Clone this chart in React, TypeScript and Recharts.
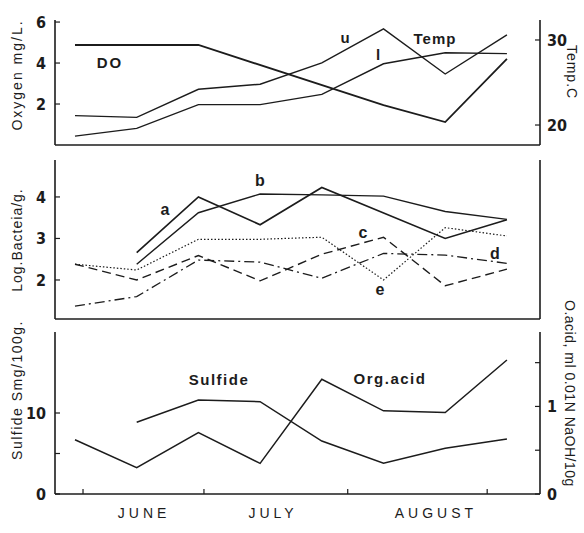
import { LineChart, Line, XAxis, YAxis } from "recharts";

// sample number along the season (8 samplings, June..August)
const sampleIdx = [0, 1, 2, 3, 4, 5, 6, 7];

// top panel
const dissolvedO2 = [4.88, 4.88, 4.88, null, null, 1.95, 1.12, 4.2];
const tempUpper = [21.1, 20.9, 24.2, 24.8, 27.3, 31.3, 26.0, 30.6];
const tempLower = [18.7, 19.6, 22.4, 22.4, 23.6, 27.2, 28.5, 28.4];

// middle panel, log bacteria / g
const bacteriaA = [null, 2.66, 4.0, 3.33, 4.23, null, 3.0, 3.45];
const bacteriaB = [null, 2.38, 3.62, 4.07, 4.05, 4.02, 3.65, 3.46];
const bacteriaC = [2.38, 2.0, 2.59, 1.98, 2.62, 3.03, 1.86, 2.26];
const bacteriaD = [1.37, 1.6, 2.48, 2.43, 2.04, 2.64, 2.6, 2.4];
const bacteriaE = [2.38, 2.24, 2.98, 2.98, 3.03, 2.0, 3.26, 3.06];

// bottom panel
const sulfide = [null, 8.85, 11.6, 11.4, 6.54, 3.79, 5.64, 6.79];
const orgAcid = [0.62, 0.3, 0.7, 0.35, 1.31, 0.95, 0.93, 1.53];

const months = ["JUNE", "JULY", "AUGUST"];
const monthPos = [1.12, 3.21, 5.85];
const monthMarks = [0.13, 2.09, 4.42, 6.68];

const rows = sampleIdx.map((x, i) => ({
  x,
  do: dissolvedO2[i],
  tu: tempUpper[i],
  tl: tempLower[i],
  a: bacteriaA[i],
  b: bacteriaB[i],
  c: bacteriaC[i],
  d: bacteriaD[i],
  e: bacteriaE[i],
  sulfide: sulfide[i],
  acid: orgAcid[i],
}));

const X_DOMAIN: [number, number] = [-0.324, 7.536];
const INK = "#1c1c1c";
const NUM_FONT = "'Liberation Sans Narrow', 'DejaVu Sans Condensed', 'Liberation Sans', Arial";
const TXT_FONT = "'Liberation Sans', Arial, sans-serif";
const tickStyle = { fontSize: 16, fontWeight: 700, fill: INK, fontFamily: NUM_FONT };
const axisLine = { stroke: INK, strokeWidth: 1.6 };
const tickLine = { stroke: INK, strokeWidth: 1.2 };

function MonthTick(props: any) {
  const { x, y, payload } = props;
  const i = monthPos.indexOf(payload.value);
  if (i >= 0) {
    return (
      <text
        x={x}
        y={y + 24}
        textAnchor="middle"
        fontSize={14}
        fontFamily={TXT_FONT}
        letterSpacing={4}
        fill={INK}
      >
        {months[i]}
      </text>
    );
  }
  return <line x1={x} x2={x} y1={y} y2={y - 5} stroke={INK} strokeWidth={1.2} />;
}

function Overlay() {
  const lbl = { fontFamily: TXT_FONT, fill: INK } as const;
  return (
    <svg
      width={584}
      height={533}
      style={{ position: "absolute", left: 0, top: 0, pointerEvents: "none" }}
    >
      {/* axis titles */}
      <text {...lbl} fontSize={14} letterSpacing={2} textAnchor="middle" dominantBaseline="central"
        transform="translate(17,75) rotate(-90)">Oxygen mg/L.</text>
      <text {...lbl} fontSize={14} letterSpacing={1} textAnchor="middle" dominantBaseline="central"
        transform="translate(17,240) rotate(-90)">Log.Bacteia/g.</text>
      <text {...lbl} fontSize={14} letterSpacing={1.5} textAnchor="middle" dominantBaseline="central"
        transform="translate(17,390) rotate(-90)">Sulfide Smg/100g.</text>
      <text {...lbl} fontSize={14} letterSpacing={1} textAnchor="middle" dominantBaseline="central"
        transform="translate(572,72) rotate(90)">Temp.C</text>
      <text {...lbl} fontSize={14} letterSpacing={0.5} textAnchor="start" dominantBaseline="central"
        transform="translate(570,300) rotate(90)">O.acid, ml 0.01N NaOH/10g</text>

      {/* series labels */}
      <text {...lbl} fontSize={15} fontWeight={700} letterSpacing={2} textAnchor="middle" dominantBaseline="central" x={110} y={62}>DO</text>
      <text {...lbl} fontSize={15} fontWeight={700} textAnchor="middle" dominantBaseline="central" x={345} y={37}>u</text>
      <text {...lbl} fontSize={15} fontWeight={700} letterSpacing={1} textAnchor="middle" dominantBaseline="central" x={435} y={38}>Temp</text>
      <text {...lbl} fontSize={15} fontWeight={700} textAnchor="middle" dominantBaseline="central" x={378} y={54}>l</text>
      <text {...lbl} fontSize={16} fontWeight={700} textAnchor="middle" dominantBaseline="central" x={165} y={209}>a</text>
      <text {...lbl} fontSize={16} fontWeight={700} textAnchor="middle" dominantBaseline="central" x={260} y={180}>b</text>
      <text {...lbl} fontSize={16} fontWeight={700} textAnchor="middle" dominantBaseline="central" x={363} y={232}>c</text>
      <text {...lbl} fontSize={16} fontWeight={700} textAnchor="middle" dominantBaseline="central" x={495} y={253}>d</text>
      <text {...lbl} fontSize={16} fontWeight={700} textAnchor="middle" dominantBaseline="central" x={380} y={289}>e</text>
      <text {...lbl} fontSize={15} fontWeight={700} letterSpacing={1.5} textAnchor="middle" dominantBaseline="central" x={219} y={379}>Sulfide</text>
      <text {...lbl} fontSize={15} fontWeight={700} letterSpacing={1.5} textAnchor="middle" dominantBaseline="central" x={390} y={378}>Org.acid</text>
    </svg>
  );
}

export default function App() {
  return (
    <div
      style={{
        position: "absolute",
        left: 0,
        top: 0,
        width: 584,
        height: 533,
        background: "#fff",
        overflow: "hidden",
      }}
    >
      {/* oxygen / temperature */}
      <div style={{ position: "absolute", left: 0, top: 0 }}>
        <LineChart width={584} height={150} data={rows} margin={{ top: 20, right: 0, bottom: 4, left: 0 }}>
          <XAxis dataKey="x" type="number" domain={X_DOMAIN} allowDataOverflow height={1} tick={false} tickLine={false} axisLine={axisLine} />
          <YAxis yAxisId="o" domain={[0, 6.1]} ticks={[2, 4, 6]} width={55} tickSize={-5} tickMargin={14}
            tick={tickStyle} tickLine={tickLine} axisLine={axisLine} interval={0} />
          <YAxis yAxisId="t" orientation="right" domain={[17.65, 32.35]} ticks={[20, 30]} width={44} tickSize={-5} tickMargin={12}
            tick={tickStyle} tickLine={tickLine} axisLine={axisLine} interval={0} />
          <Line yAxisId="o" dataKey="do" stroke={INK} strokeWidth={1.8} dot={false} activeDot={false} connectNulls isAnimationActive={false} />
          <Line yAxisId="t" dataKey="tu" stroke={INK} strokeWidth={1.4} dot={false} activeDot={false} isAnimationActive={false} />
          <Line yAxisId="t" dataKey="tl" stroke={INK} strokeWidth={1.4} dot={false} activeDot={false} isAnimationActive={false} />
        </LineChart>
      </div>

      {/* bacteria */}
      <div style={{ position: "absolute", left: 0, top: 150 }}>
        <LineChart width={584} height={175} data={rows} margin={{ top: 10, right: 0, bottom: 5, left: 0 }}>
          <XAxis dataKey="x" type="number" domain={X_DOMAIN} allowDataOverflow height={1} tick={false} tickLine={false} axisLine={axisLine} />
          <YAxis yAxisId="g" domain={[1.06, 4.89]} ticks={[2, 3, 4]} width={55} tickSize={-5} tickMargin={14}
            tick={tickStyle} tickLine={tickLine} axisLine={axisLine} interval={0} />
          <YAxis yAxisId="r" orientation="right" domain={[0, 1]} width={44} tick={false} tickLine={false} axisLine={axisLine} />
          <Line yAxisId="g" dataKey="a" stroke={INK} strokeWidth={1.7} dot={false} activeDot={false} connectNulls isAnimationActive={false} />
          <Line yAxisId="g" dataKey="b" stroke={INK} strokeWidth={1.4} dot={false} activeDot={false} connectNulls isAnimationActive={false} />
          <Line yAxisId="g" dataKey="c" stroke={INK} strokeWidth={1.4} strokeDasharray="9 5" dot={false} activeDot={false} isAnimationActive={false} />
          <Line yAxisId="g" dataKey="d" stroke={INK} strokeWidth={1.3} strokeDasharray="10 4 2 4" dot={false} activeDot={false} isAnimationActive={false} />
          <Line yAxisId="g" dataKey="e" stroke={INK} strokeWidth={1.2} strokeDasharray="1.5 2" dot={false} activeDot={false} isAnimationActive={false} />
        </LineChart>
      </div>

      {/* sulfide / organic acid */}
      <div style={{ position: "absolute", left: 0, top: 325 }}>
        <LineChart width={584} height={208} data={rows} margin={{ top: 7, right: 0, bottom: 9, left: 0 }}>
          <XAxis dataKey="x" type="number" domain={X_DOMAIN} allowDataOverflow height={30}
            ticks={[...monthMarks, ...monthPos].sort((p, q) => p - q)} interval={0}
            tick={<MonthTick />} tickLine={false} tickSize={0} tickMargin={0} axisLine={axisLine} />
          <YAxis yAxisId="s" domain={[0, 20]} ticks={[0, 5, 10]} width={55} tickSize={-5} tickMargin={14}
            tickFormatter={(v: number) => (v === 5 ? "" : String(v))}
            tick={tickStyle} tickLine={tickLine} axisLine={axisLine} interval={0} />
          <YAxis yAxisId="a" orientation="right" domain={[0, 1.85]} ticks={[0, 0.5, 1, 1.5]} width={44} tickSize={-5} tickMargin={12}
            tickFormatter={(v: number) => (v === 0 || v === 1 ? String(v) : "")}
            tick={tickStyle} tickLine={tickLine} axisLine={axisLine} interval={0} />
          <Line yAxisId="s" dataKey="sulfide" stroke={INK} strokeWidth={1.5} dot={false} activeDot={false} isAnimationActive={false} />
          <Line yAxisId="a" dataKey="acid" stroke={INK} strokeWidth={1.5} dot={false} activeDot={false} isAnimationActive={false} />
        </LineChart>
      </div>

      <Overlay />
    </div>
  );
}
